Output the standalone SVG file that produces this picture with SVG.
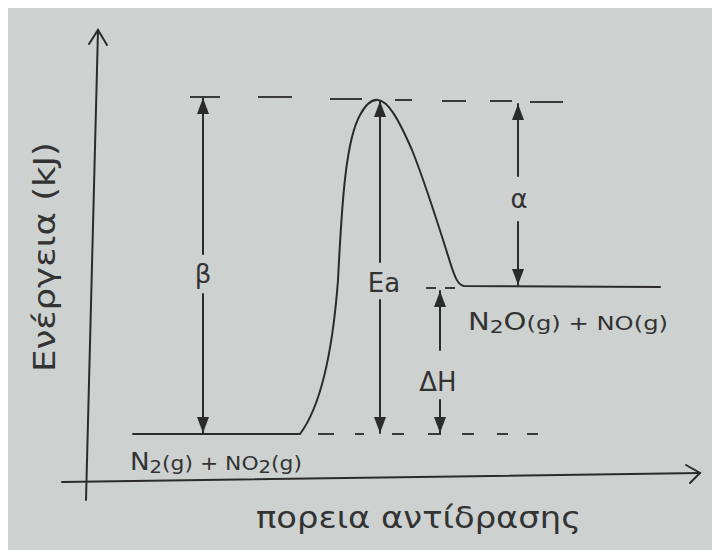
<svg xmlns="http://www.w3.org/2000/svg" width="712" height="550" viewBox="0 0 712 550">
<defs>
<style>
.ln{stroke:#2b2b2b;stroke-width:2;fill:none;stroke-linecap:round}
.ds{stroke:#3a3a3a;stroke-width:2;fill:none}
.tx{font-family:"DejaVu Sans","Liberation Sans",sans-serif;fill:#333;}
</style>
<marker id="dn" viewBox="0 0 12 16" refX="6" refY="16" markerWidth="12" markerHeight="16" markerUnits="userSpaceOnUse" orient="0">
<path d="M0,0 L12,0 L6,16 Z" fill="#2b2b2b"/>
</marker>
<marker id="up" viewBox="0 0 12 16" refX="6" refY="0" markerWidth="12" markerHeight="16" markerUnits="userSpaceOnUse" orient="0">
<path d="M6,0 L12,16 L0,16 Z" fill="#2b2b2b"/>
</marker>
</defs>
<rect x="0" y="0" width="712" height="550" fill="#ffffff"/>
<rect x="8" y="8" width="704" height="542" fill="#cdd2d1"/>

<g id="axes">
<path class="ln" d="M98,30 L86,500"/>
<path class="ln" d="M89,44 L98,30 L107,45"/>
<path class="ln" d="M62,482 L700,473"/>
<path class="ln" d="M686,465 L700,473 L690,483"/>
</g>

<g id="connectors">
<path class="ln" d="M133,434 L300,434 C318,410 332,360 338,280 C342,200 346,140 360,115 C366,104 372,99 378,100 C388,101 398,118 412,150 C426,185 440,230 450,262 C455,278 458,285 464,286 L660,287"/>
<g class="ds">
<path d="M190,97 H220 M258,97 H292 M330,99 H362 M395,100 H412 M442,101 H466 M490,101 H512 M530,102 H563"/>
<path d="M318,434 H334 M355,434 H364 M392,434 H404 M428,434 H441 M462,434 H474 M497,434 H508 M527,434 H538"/>
<path d="M426,288 H436 M445,288 H455"/>
</g>
<path class="ln" d="M203,98 V254" marker-start="url(#up)"/>
<path class="ln" d="M203,294 V433" marker-end="url(#dn)"/>
<path class="ln" d="M380,101 V262" marker-start="url(#up)"/>
<path class="ln" d="M380,300 V433" marker-end="url(#dn)"/>
<path class="ln" d="M518,104 V176" marker-start="url(#up)"/>
<path class="ln" d="M518,222 V285" marker-end="url(#dn)"/>
<path class="ln" d="M440,291 V350" marker-start="url(#up)"/>
<path class="ln" d="M440,400 V433" marker-end="url(#dn)"/>
</g>

<g id="reactants">
<text class="tx" x="130" y="470" font-size="24" textLength="172" lengthAdjust="spacingAndGlyphs">N<tspan font-size="18" dy="3">2</tspan><tspan font-size="20" dy="-3">(g) + NO</tspan><tspan font-size="18" dy="3">2</tspan><tspan font-size="20" dy="-3">(g)</tspan></text>
</g>
<g id="products">
<text class="tx" x="468" y="330" font-size="24" textLength="200" lengthAdjust="spacingAndGlyphs">N<tspan font-size="18" dy="3">2</tspan><tspan dy="-3">O</tspan><tspan font-size="20">(g) + NO(g)</tspan></text>
</g>
<g id="labels">
<text class="tx" x="203" y="283" font-size="26" text-anchor="middle">β</text>
<text class="tx" x="384" y="292" font-size="26" text-anchor="middle">Ea</text>
<text class="tx" x="519" y="208" font-size="26" text-anchor="middle">α</text>
<text class="tx" x="438" y="391" font-size="26" text-anchor="middle">ΔH</text>
<text class="tx" x="256" y="528" font-size="30" textLength="325" lengthAdjust="spacingAndGlyphs">πορεια  αντίδρασης</text>
<text class="tx" transform="translate(55,372) rotate(-90)" font-size="30" textLength="230" lengthAdjust="spacingAndGlyphs">Ενέργεια (kJ)</text>
</g>
</svg>
